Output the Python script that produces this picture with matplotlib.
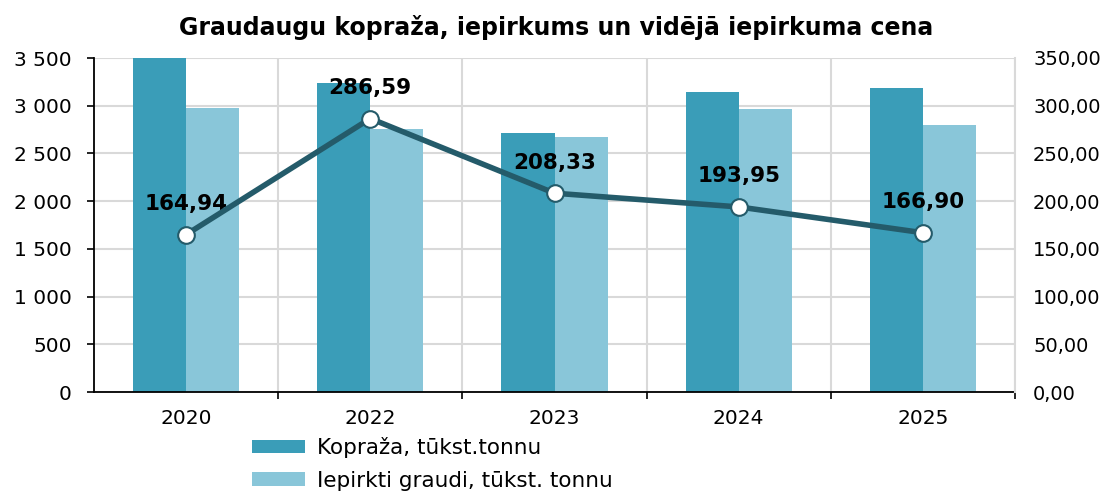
import matplotlib
matplotlib.use("Agg")
import matplotlib.pyplot as plt
import numpy as np
from matplotlib.ticker import FuncFormatter, FixedLocator

years = ["2020", "2022", "2023", "2024", "2025"]
kopraza = [3500, 3238, 2714, 3144, 3186]
iepirkti = [2976, 2756, 2672, 2966, 2798]
cena = [164.94, 286.59, 208.33, 193.95, 166.90]

title = "Graudaugu kopraža, iepirkums un vidējā iepirkuma cena"
label_k = "Kopraža, tūkst.tonnu"
label_i = "Iepirkti graudi, tūkst. tonnu"

dark = "#3a9db8"
light = "#89c6d9"
line_col = "#245b6a"
grid_col = "#d9d9d9"

plt.rcParams["font.family"] = ["DejaVu Sans"]

fig = plt.figure(figsize=(11.13, 4.92), dpi=100)
ax = fig.add_axes([94 / 1113, 1 - 392 / 492, (1015 - 94) / 1113, (392 - 58) / 492])
ax2 = ax.twinx()

x = np.arange(len(years))
w = 0.288
ax.bar(x - w / 2, kopraza, w, color=dark, label=label_k, zorder=2)
ax.bar(x + w / 2, iepirkti, w, color=light, label=label_i, zorder=2)

ax.set_xlim(-0.5, len(years) - 0.5)
ax.set_ylim(0, 3500)
ax.set_yticks(np.arange(0, 3501, 500))
ax.yaxis.set_major_formatter(FuncFormatter(lambda v, p: f"{int(v):,}".replace(",", " ")))
ax.set_xticks(x)
ax.set_xticklabels(years)
ax.xaxis.set_minor_locator(FixedLocator(np.arange(0.5, len(years), 1.0)))
ax.tick_params(axis="x", which="major", length=0, labelsize=14.5, pad=12)
ax.tick_params(axis="x", which="minor", length=5, width=1.2, direction="out")
ax.tick_params(axis="y", length=5, width=1.2, labelsize=14.5, pad=11)
ax.grid(True, axis="y", color=grid_col, linewidth=1.5, zorder=0)
ax.grid(True, axis="x", which="minor", color=grid_col, linewidth=1.5, zorder=0)
ax.set_axisbelow(True)
for s in ["top", "right"]:
    ax.spines[s].set_visible(False)
ax.spines["left"].set_linewidth(1.3)
ax.spines["bottom"].set_linewidth(1.3)
ax.spines["bottom"].set_zorder(5)

ax2.set_ylim(0, 350)
ax2.set_yticks(np.arange(0, 351, 50))
ax2.yaxis.set_major_formatter(FuncFormatter(lambda v, p: f"{v:.2f}".replace(".", ",")))
ax2.tick_params(axis="y", length=0, labelsize=14, pad=13)
for s in ["top", "left", "bottom"]:
    ax2.spines[s].set_visible(False)
ax2.spines["right"].set_color(grid_col)
ax2.spines["right"].set_linewidth(1.5)

ax2.plot(x, cena, color=line_col, linewidth=4, marker="o", markersize=12,
         markerfacecolor="white", markeredgecolor=line_col, markeredgewidth=1.5, zorder=4)
for xi, v in zip(x, cena):
    ax2.annotate(f"{v:.2f}".replace(".", ","), (xi, v), xytext=(0, 22),
                 textcoords="offset points", ha="center", va="center",
                 fontsize=15.5, fontweight="bold", color="black")

fig.text(0.5, 1 - 27 / 492, title, ha="center", va="center", fontsize=17, fontweight="bold")

handles, labels = ax.get_legend_handles_labels()
fig.legend(handles, labels, loc="upper left", bbox_to_anchor=(252 / 1113, 1 - 437 / 492),
           frameon=False, fontsize=15.5, handlelength=2.45, handleheight=0.6,
           labelspacing=0.6, handletextpad=0.55, borderpad=0, borderaxespad=0)

fig.savefig("out.png", dpi=100)
